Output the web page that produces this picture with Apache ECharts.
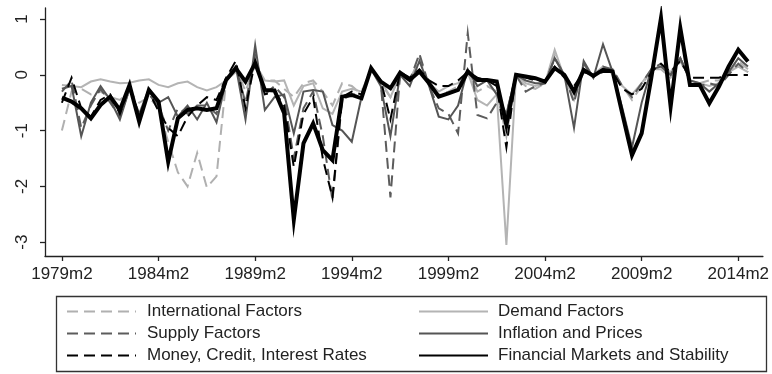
<!DOCTYPE html>
<html>
<head>
<meta charset="utf-8">
<script src="https://cdn.jsdelivr.net/npm/echarts@6/dist/echarts.min.js"></script>
<style>html,body{margin:0;padding:0;background:#fff}#c{width:772px;height:374px}</style>
</head>
<body>
<div id="c"></div>
<script>
// Semiannual observations, 1979m2 ... 2014m8 (index 0..71)
var tickIndex = [0, 10, 20, 30, 40, 50, 60, 70];
var tickLabels = ['1979m2', '1984m2', '1989m2', '1994m2', '1999m2', '2004m2', '2009m2', '2014m2'];
var yTicks = [-3, -2, -1, 0, 1];

var international = [-1.0, -0.3, -0.25, -0.35, -0.3, -0.4, -0.45, -0.3, -0.5, -0.4,
  -0.6, -1.2, -1.75, -2.0, -1.4, -2.02, -1.82, -0.1, 0.15, -0.3,
  0.2, -0.1, -0.1, -0.25, -0.4, -0.15, -0.1, -0.3, -0.55, -0.15,
  -0.2, -0.35, 0.1, -0.15, -0.4, 0.0, -0.1, 0.3, -0.2, -0.35,
  -0.3, -0.2, 0.1, -0.3, -0.2, -0.3, -1.1, -0.05, -0.2, -0.25,
  -0.15, 0.35, -0.05, -0.35, 0.1, 0.0, 0.1, 0.05, -0.2, -0.45,
  -0.2, 0.1, 0.1, -0.05, 0.25, -0.1, -0.15, -0.1, -0.1, 0.05,
  0.25, 0.1];
var demand = [-0.18, -0.2, -0.22, -0.12, -0.08, -0.12, -0.15, -0.14, -0.1, -0.08,
  -0.18, -0.22, -0.15, -0.12, -0.22, -0.28, -0.22, -0.1, 0.05, -0.15,
  0.15, -0.1, -0.12, -0.1, -0.55, -0.2, -0.15, -0.6, -0.7, -0.3,
  -0.25, -0.3, 0.1, -0.1, -0.4, 0.0, -0.1, 0.1, -0.15, -0.3,
  -0.2, -0.15, 0.05, -0.45, -0.55, -0.35, -3.05, 0.0, -0.15, -0.2,
  -0.15, 0.45, -0.05, -0.45, 0.1, 0.0, 0.15, 0.05, -0.2, -0.35,
  -0.15, 0.1, 0.15, 0.05, 0.3, -0.1, -0.15, -0.2, -0.15, 0.05,
  0.15, 0.05];
var supply = [-0.3, -0.1, -0.95, -0.55, -0.25, -0.5, -0.75, -0.25, -0.7, -0.35,
  -0.55, -1.0, -0.6, -0.7, -0.55, -0.55, -0.7, -0.05, 0.15, -0.5,
  0.35, -0.35, -0.2, -0.4, -1.5, -0.6, -0.3, -1.1, -2.25, -0.45,
  -0.35, -0.35, 0.1, -0.15, -2.2, 0.0, -0.1, 0.38, -0.2, -0.6,
  -0.7, -1.05, 0.75, -0.72, -0.78, -0.5, -0.7, 0.0, -0.3, -0.2,
  -0.15, 0.3, 0.0, -0.5, 0.2, -0.05, 0.15, 0.1, -0.2, -0.4,
  -0.15, 0.1, 0.2, 0.0, 0.3, -0.1, -0.2, -0.15, -0.2, 0.0,
  0.2, 0.05];
var inflation = [-0.25, -0.2, -1.1, -0.5, -0.2, -0.45, -0.8, -0.25, -0.7, -0.25,
  -0.5, -0.4, -0.75, -0.55, -0.8, -0.5, -0.85, -0.1, 0.15, -0.8,
  0.53, -0.63, -0.4, -0.35, -1.05, -0.3, -0.27, -0.3, -0.9, -1.0,
  -1.2, -0.4, 0.1, -0.2, -1.1, 0.0, -0.2, 0.25, -0.2, -0.75,
  -0.8, -0.55, 0.1, -0.2, -0.1, -0.35, -0.7, 0.0, -0.1, -0.15,
  -0.15, 0.3, 0.0, -0.95, 0.25, -0.05, 0.55, 0.05, -0.6, -1.3,
  -0.5, 0.1, 0.15, 0.0, 0.3, -0.1, -0.15, -0.3, -0.15, 0.05,
  0.3, 0.15];
var money = [-0.5, -0.05, -0.6, -0.75, -0.45, -0.35, -0.7, -0.2, -0.75, -0.3,
  -0.65, -0.95, -1.1, -0.75, -0.55, -0.4, -0.45, -0.05, 0.25, -0.6,
  0.25, -0.35, -0.3, -0.55, -1.65, -0.7, -0.4, -1.5, -2.2, -0.4,
  -0.3, -0.35, 0.1, -0.1, -0.8, 0.05, -0.05, 0.1, -0.1, -0.2,
  -0.2, -0.1, 0.05, -0.05, -0.1, -0.2, -1.3, 0.0, -0.05, -0.1,
  -0.1, 0.15, -0.05, -0.2, 0.05, 0.0, 0.05, 0.05, -0.25, -0.35,
  -0.25, 0.05, 0.2, 0.05, 0.25, -0.05, -0.05, -0.05, -0.05, 0.0,
  0.0, 0.0];
var financial = [-0.41, -0.48, -0.6, -0.78, -0.54, -0.39, -0.63, -0.18, -0.84, -0.27,
  -0.48, -1.56, -0.78, -0.63, -0.6, -0.63, -0.6, -0.09, 0.12, -0.12,
  0.21, -0.27, -0.28, -0.69, -2.6, -1.23, -0.87, -1.35, -1.53, -0.39,
  -0.36, -0.42, 0.12, -0.12, -0.24, 0.04, -0.09, 0.06, -0.15, -0.39,
  -0.33, -0.27, 0.06, -0.09, -0.09, -0.12, -0.9, 0.0, -0.03, -0.06,
  -0.12, 0.12, 0.0, -0.3, 0.09, -0.02, 0.09, 0.06, -0.7, -1.44,
  -1.05, -0.05, 1.02, -0.57, 0.84, -0.18, -0.18, -0.51, -0.21, 0.15,
  0.45, 0.24];

function pairs(arr) { return arr.map(function (v, i) { return [i, v]; }); }

var FONT = "'Liberation Sans', Arial, Helvetica, sans-serif";
var defs = [
  { name: 'International Factors', data: international, color: '#b0b0b0', width: 2, type: [11, 6], z: 2 },
  { name: 'Demand Factors', data: demand, color: '#b4b4b4', width: 2, type: 'solid', z: 2 },
  { name: 'Supply Factors', data: supply, color: '#5c5c5c', width: 2, type: [11, 6], z: 3 },
  { name: 'Inflation and Prices', data: inflation, color: '#555555', width: 2, type: 'solid', z: 3 },
  { name: 'Money, Credit, Interest Rates', data: money, color: '#000000', width: 2, type: [11, 6], z: 4 },
  { name: 'Financial Markets and Stability', data: financial, color: '#000000', width: 4, type: 'solid', z: 5 }
];

var series = defs.map(function (d) {
  return {
    name: d.name, type: 'line', data: pairs(d.data), showSymbol: false, symbol: 'none',
    z: d.z, animation: false,
    lineStyle: { color: d.color, width: d.width, type: d.type, join: 'miter' },
    itemStyle: { color: d.color }
  };
});

var legendPos = [
  { left: 66, top: 303 }, { left: 418, top: 303 },
  { left: 66, top: 325 }, { left: 418, top: 325 },
  { left: 66, top: 347 }, { left: 418, top: 347 }
];
var legends = defs.map(function (d, k) {
  return {
    data: [d.name], left: legendPos[k].left, top: legendPos[k].top, padding: 0,
    itemWidth: 69, itemHeight: 16, selectedMode: false,
    itemStyle: { opacity: 0 },
    textStyle: { fontFamily: FONT, fontSize: 17, color: '#222', padding: [0, 0, 0, k % 2 === 0 ? 6 : 5] }
  };
});

var chart = echarts.init(document.getElementById('c'), null, { renderer: 'canvas' });
chart.setOption({
  animation: false,
  backgroundColor: '#fff',
  grid: { left: 45, right: 6, top: 8, bottom: 118, containLabel: false },
  xAxis: {
    type: 'value', min: -1.75, max: 72.55,
    axisLine: { show: true, onZero: false, lineStyle: { color: '#222', width: 1.3 } },
    axisTick: { show: true, length: 5, customValues: tickIndex, lineStyle: { color: '#222', width: 1.3 } },
    axisLabel: {
      customValues: tickIndex, margin: 10, fontFamily: FONT, fontSize: 17, color: '#222',
      formatter: function (v) { var k = tickIndex.indexOf(Math.round(v)); return k >= 0 ? tickLabels[k] : ''; }
    },
    splitLine: { show: false }
  },
  yAxis: {
    type: 'value', min: -3.25, max: 1.2,
    axisLine: { show: true, onZero: false, lineStyle: { color: '#222', width: 1.3 } },
    axisTick: { show: true, length: 5, customValues: yTicks, lineStyle: { color: '#222', width: 1.3 } },
    axisLabel: { customValues: yTicks, rotate: 90, margin: 14, fontFamily: FONT, fontSize: 17, color: '#222' },
    splitLine: { show: false }
  },
  legend: legends,
  graphic: [{
    type: 'rect', shape: { x: 56.5, y: 296.5, width: 710, height: 75 },
    style: { fill: 'none', stroke: '#333', lineWidth: 1.3 }, z: -1
  }],
  series: series
});
</script>
</body>
</html>
